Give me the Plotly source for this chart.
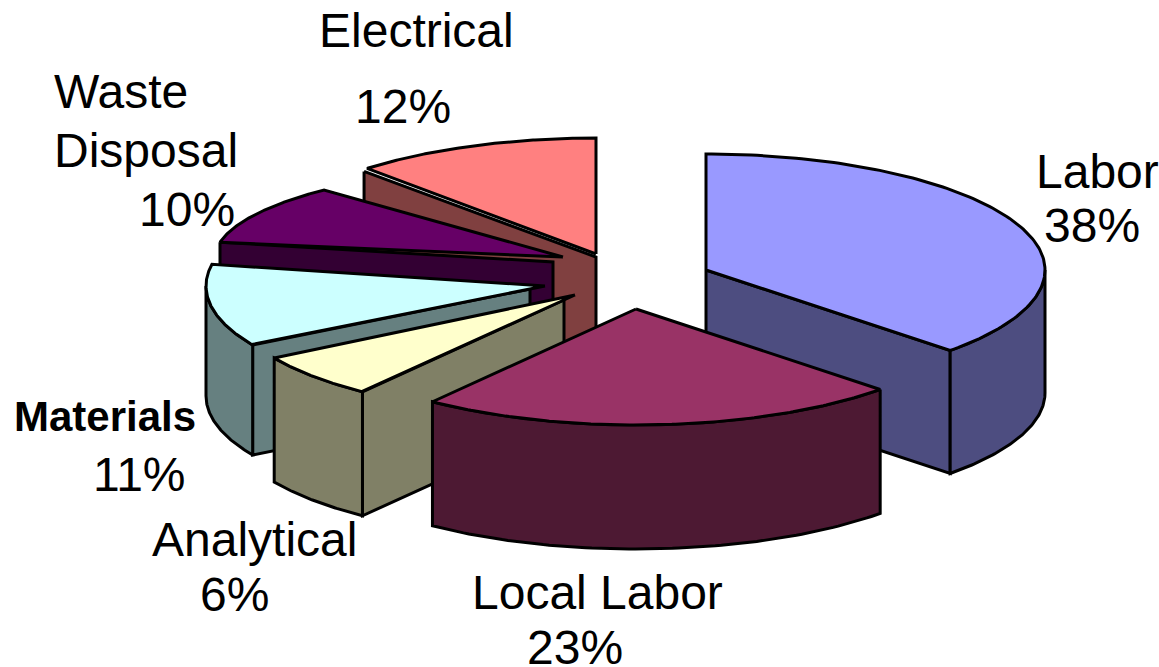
import numpy as np
import plotly.graph_objects as go

# ---- data ----
categories = ["Labor", "Local Labor", "Analytical", "Materials", "Waste Disposal", "Electrical"]
# shares as actually drawn (%), clockwise from 12 o'clock
slice_shares = [37.2, 23.05, 6.25, 11.5, 10.2, 11.8]
shown_percent = ["38%", "23%", "6%", "11%", "10%", "12%"]

# ---- styles / layout ----
top_colors = ["#9999FF", "#993366", "#FFFFCC", "#CCFFFF", "#660066", "#FF8080"]
side_colors = ["#4D4D80", "#4D1933", "#808066", "#668080", "#330033", "#804040"]
# exploded slice geometry in page pixels
centers = [(706, 270), (636, 309), (566, 299), (541, 286), (553, 260), (596, 254)]
radii = [(339, 116), (339, 116), (339, 116), (335, 116), (339, 95), (339, 116)]
depths = [123, 124, 124, 110, 100, 110]
tips = [(706, 270), (636, 309), (575, 295), (545, 286), (563, 257), (596, 254)]
wall_inner = [(706, 270), (636, 309), (564, 300), (530, 289), (553, 262), (596, 257)]
wall_gap = [(0, 0), (0, 0), (0, 0), (0, 0), (0, 0), (-3, 3)]
draw_order = [5, 4, 3, 2, 0, 1]

# text lines: (text, centre x, centre y, size, bold)
label_lines = [
    (categories[0], 1097, 171, 48, False),
    (shown_percent[0], 1092, 225, 48, False),
    ("Local Labor", 597, 592, 48, False),
    (shown_percent[1], 575, 647, 48, False),
    (categories[2], 254, 539, 48, False),
    (shown_percent[2], 234, 594, 48, False),
    (categories[3], 105, 416, 42, True),
    (shown_percent[3], 139, 474, 48, False),
    ("Waste", 121, 91, 48, False),
    ("Disposal", 146, 150, 48, False),
    (shown_percent[4], 187, 209, 48, False),
    (categories[5], 416, 30, 48, False),
    (shown_percent[5], 403, 106, 48, False),
]

LINE = dict(color="#000000", width=3)


def ell(c, r, a):
    a = np.radians(a)
    return c[0] + r[0] * np.sin(a), c[1] - r[1] * np.cos(a)


def add_poly(fig, xs, ys, color, name):
    fig.add_trace(go.Scatter(
        x=list(xs) + [xs[0]], y=list(ys) + [ys[0]], mode="lines", fill="toself",
        fillcolor=color, line=LINE, name=name, hoverinfo="name", showlegend=False,
    ))


fig = go.Figure()
bounds = np.concatenate([[0], np.cumsum(slice_shares) / sum(slice_shares) * 360])

for i in draw_order:
    s, e = bounds[i], bounds[i + 1]
    c, r, d = centers[i], radii[i], depths[i]
    name = categories[i]
    # radial faces that look towards the viewer
    if 180 <= s < 360:
        x0, y0 = ell(c, r, s)
        x0 += wall_gap[i][0]; y0 += wall_gap[i][1]
        xi, yi = wall_inner[i]
        add_poly(fig, [x0, xi, xi, x0], [y0, yi, yi + d, y0 + d], side_colors[i], name)
    if 0 < e <= 180:
        x0, y0 = ell(c, r, e)
        xi, yi = wall_inner[i]
        add_poly(fig, [xi, x0, x0, xi], [yi, y0, y0 + d, yi + d], side_colors[i], name)
    # outer rim wall
    a0, a1 = max(s, 90), min(e, 270)
    if a1 > a0:
        aa = np.linspace(a0, a1, 80)
        px, py = ell(c, r, aa)
        add_poly(fig, np.r_[px, px[::-1]], np.r_[py, py[::-1] + d], side_colors[i], name)
    # top face
    aa = np.linspace(s, e, 140)
    px, py = ell(c, r, aa)
    add_poly(fig, np.r_[tips[i][0], px], np.r_[tips[i][1], py], top_colors[i], name)

for text, x, y, size, bold in label_lines:
    fig.add_annotation(
        x=x, y=y, xref="x", yref="y", showarrow=False, xanchor="center", yanchor="middle",
        text=f"<b>{text}</b>" if bold else text,
        font=dict(family="Liberation Sans, Arial, sans-serif", size=size, color="#000000"),
    )

fig.update_xaxes(range=[0, 1159], visible=False, fixedrange=True)
fig.update_yaxes(range=[667, 0], visible=False, fixedrange=True)
fig.update_layout(
    width=1159, height=667, margin=dict(l=0, r=0, t=0, b=0),
    paper_bgcolor="#FFFFFF", plot_bgcolor="#FFFFFF", showlegend=False,
)
fig.write_html("out.html", config={"displayModeBar": False},
               post_script="document.body.style.margin='0';document.body.style.overflow='hidden';")
